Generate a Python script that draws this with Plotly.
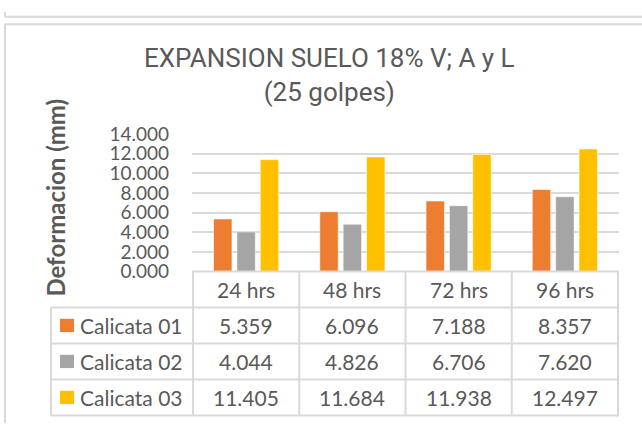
import plotly.graph_objects as go

# ---- data ----
categories = ["24 hrs", "48 hrs", "72 hrs", "96 hrs"]
series_names = ["Calicata 01", "Calicata 02", "Calicata 03"]
calicata_01 = [5.359, 6.096, 7.188, 8.357]
calicata_02 = [4.044, 4.826, 6.706, 7.620]
calicata_03 = [11.405, 11.684, 11.938, 12.497]
y_ticks = [0, 2, 4, 6, 8, 10, 12, 14]

series_values = [calicata_01, calicata_02, calicata_03]
colors = ["#ED7D31", "#A5A5A5", "#FFC000"]

W, H = 642, 434
def px(x):
    return x / W
def py(y):
    return 1 - y / H

TXT = "#595959"
GRID = "#D9D9D9"
FONT = "Lato"

fig = go.Figure()
for name, vals, col in zip(series_names, series_values, colors):
    fig.add_trace(go.Bar(
        x=categories, y=vals, name=name,
        marker=dict(color=col, line=dict(color="rgba(255,255,255,0.6)", width=1)),
        hoverinfo="x+y+name",
    ))

# plot area (pixel geometry of the reference)
plot_left, plot_right = 192, 619
plot_top, plot_bottom = 129, 274
row_lines = [274, 312, 350, 388, 426]
label_left = 51

shapes = []
# outer frames
shapes.append(dict(type="line", xref="paper", yref="paper", x0=px(5), x1=px(5), y0=py(0), y1=py(5),
                   line=dict(color=GRID, width=2)))
shapes.append(dict(type="line", xref="paper", yref="paper", x0=px(5), x1=px(W), y0=py(5), y1=py(5),
                   line=dict(color=GRID, width=2)))
shapes.append(dict(type="line", xref="paper", yref="paper", x0=px(5), x1=px(W), y0=py(13), y1=py(13),
                   line=dict(color=GRID, width=2)))
shapes.append(dict(type="line", xref="paper", yref="paper", x0=px(5), x1=px(5), y0=py(13), y1=py(H),
                   line=dict(color=GRID, width=2)))

# table horizontal lines
for i, yl in enumerate(row_lines):
    x0 = plot_left if i == 0 else label_left
    shapes.append(dict(type="line", xref="paper", yref="paper", x0=px(x0), x1=px(plot_right),
                       y0=py(yl), y1=py(yl), line=dict(color=GRID, width=2)))
# table vertical lines (category boundaries, in axis coordinates)
for k in range(len(categories) + 1):
    shapes.append(dict(type="line", xref="x", yref="paper", x0=k - 0.5, x1=k - 0.5,
                       y0=py(row_lines[0]), y1=py(row_lines[-1]), line=dict(color=GRID, width=2)))
shapes.append(dict(type="line", xref="paper", yref="paper", x0=px(label_left), x1=px(label_left),
                   y0=py(row_lines[1]), y1=py(row_lines[-1]), line=dict(color=GRID, width=2)))

annotations = []
# title
annotations.append(dict(xref="paper", yref="paper", x=px(330), y=py(66),
                        text="EXPANSION SUELO 18% V; A y L<br>(25 golpes)", showarrow=False,
                        font=dict(family="Roboto", size=26, color=TXT), xanchor="center", yanchor="middle"))
# header row
hdr_c = (row_lines[0] + row_lines[1]) / 2
for c in categories:
    annotations.append(dict(xref="x", yref="paper", x=c, y=py(hdr_c), text=c, showarrow=False,
                            font=dict(family=FONT, size=21, color=TXT), xanchor="center", yanchor="middle"))
# data rows
for r, (name, vals, col) in enumerate(zip(series_names, series_values, colors)):
    yc = (row_lines[r + 1] + row_lines[r + 2]) / 2
    shapes.append(dict(type="rect", xref="paper", yref="paper", x0=px(60), x1=px(74),
                       y0=py(yc - 7), y1=py(yc + 7), fillcolor=col, line=dict(width=0)))
    annotations.append(dict(xref="paper", yref="paper", x=px(78), y=py(yc), text=name, showarrow=False,
                            font=dict(family=FONT, size=21, color=TXT), xanchor="left", yanchor="middle"))
    for c, v in zip(categories, vals):
        annotations.append(dict(xref="x", yref="paper", x=c, y=py(yc), text=f"{v:.3f}", showarrow=False,
                                font=dict(family=FONT, size=21, color=TXT), xanchor="center", yanchor="middle"))

# y-axis title
annotations.append(dict(xref="paper", yref="paper", x=px(56), y=py(196), text="<b>Deformacion (mm)</b>",
                        textangle=-90, showarrow=False, font=dict(family=FONT, size=24, color=TXT),
                        xanchor="center", yanchor="middle"))

fig.update_layout(
    width=W, height=H,
    margin=dict(l=0, r=0, t=0, b=0),
    paper_bgcolor="white", plot_bgcolor="white",
    barmode="group", bargap=0.34, bargroupgap=0.21,
    showlegend=False,
    xaxis=dict(domain=[px(plot_left), px(plot_right)], showticklabels=False, showgrid=False,
               zeroline=False, showline=False, ticks=""),
    yaxis=dict(domain=[py(plot_bottom), py(plot_top)], range=[0, 14], tickvals=y_ticks,
               tickformat=".3f", showgrid=True, gridcolor=GRID, gridwidth=2, zeroline=False,
               showline=False, ticks="", ticklabelstandoff=22,
               tickfont=dict(family=FONT, size=19, color=TXT)),
    shapes=shapes, annotations=annotations,
)

fig.write_html("out.html", config={"displayModeBar": False},
               post_script="document.body.style.margin='0';document.body.style.overflow='hidden';")
